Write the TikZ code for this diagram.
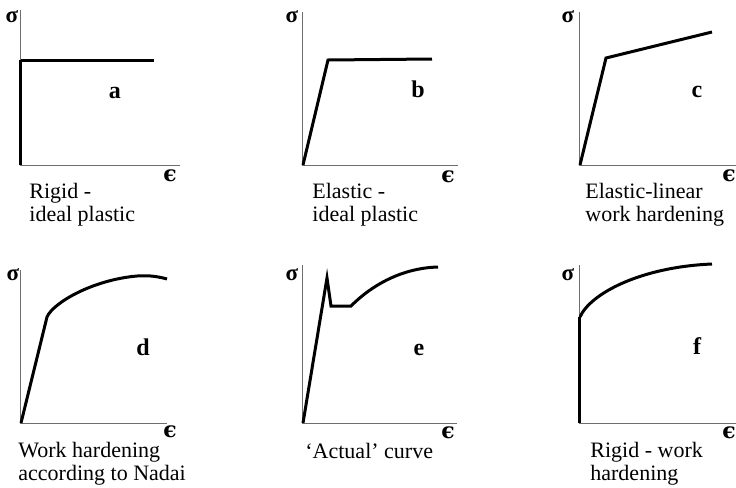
\documentclass[tikz,border=0pt]{standalone}
\usepackage{fontspec}
\setmainfont{Liberation Serif}
\newfontfamily\grkfont{DejaVu Serif}
\usepackage{tikz}
\usetikzlibrary{positioning}
\definecolor{axisgray}{HTML}{6e6e6e}
\tikzset{
  axisline/.style={draw=axisgray, line width=0.5pt},
  lawcurve/.style={line width=1.5pt, line join=miter},
  rigidleg/.style={line width=1.5pt},
  sigmalbl/.style={inner sep=0pt, font=\fontsize{11.5}{12}\selectfont\bfseries},
  epslbl/.style={inner sep=0pt, font=\fontsize{11}{12}\grkfont\bfseries},
  caselbl/.style={anchor=base, inner sep=0pt, font=\fontsize{12}{13}\selectfont\bfseries},
  captionlbl/.style={anchor=north west, inner sep=0pt, align=left,
                     font=\fontsize{11}{11.5}\selectfont}
}
\begin{document}
\begin{tikzpicture}[x=0.5pt, y=-0.5pt]
  \useasboundingbox (0,0) rectangle (736,488);

  % --- a: rigid - ideal plastic ---
  \coordinate (a-o) at (21,165);
  \coordinate (a-top) at (21,10);
  \coordinate (a-end) at (180,165);
  \draw[axisline] (a-top) -- (a-o) -- (a-end);
  \draw[rigidleg] (a-o) -- (21,60);
  \draw[lawcurve] (21,60) -- (154,60);
  \node[sigmalbl] (a-sig) at (12,17) {σ};
  \node[epslbl] (a-eps) at (170,176) {ϵ};
  \node[caselbl] (a-lbl) at (115,98) {a};
  \node[captionlbl] (a-cap) at (29,183) {Rigid -\\ ideal plastic};

  % --- b: elastic - ideal plastic ---
  \coordinate (b-o) at (303,165);
  \coordinate (b-top) at (303,12);
  \coordinate (b-end) at (458,165);
  \draw[axisline] (b-top) -- (b-o) -- (b-end);
  \draw[lawcurve] (b-o) -- (328,60) -- (432,59);
  \node[sigmalbl] (b-sig) at (292,17) {σ};
  \node[epslbl] (b-eps) at (448,177) {ϵ};
  \node[caselbl] (b-lbl) at (418,97) {b};
  \node[captionlbl] (b-cap) at (312,183) {Elastic -\\ ideal plastic};

  % --- c: elastic-linear work hardening ---
  \coordinate (c-o) at (580,165);
  \coordinate (c-top) at (580,12);
  \coordinate (c-end) at (736,165);
  \draw[axisline] (c-top) -- (c-o) -- (c-end);
  \draw[lawcurve] (c-o) -- (606,58) -- (712,32);
  \node[sigmalbl] (c-sig) at (568,17) {σ};
  \node[epslbl] (c-eps) at (729,176) {ϵ};
  \node[caselbl] (c-lbl) at (697,97) {c};
  \node[captionlbl] (c-cap) at (585,183) {Elastic-linear\\ work hardening};

  % --- d: work hardening according to Nadai ---
  \coordinate (d-o) at (21,423);
  \coordinate (d-top) at (21,270);
  \coordinate (d-end) at (167,423);
  \draw[axisline] (d-top) -- (d-o) -- (d-end);
  \draw[lawcurve] (d-o) -- (47,317)
    .. controls (53,303) and (92,280) .. (137,276)
    .. controls (150,275) and (160,277) .. (167,279);
  \node[sigmalbl] (d-sig) at (13,275) {σ};
  \node[epslbl] (d-eps) at (170,432) {ϵ};
  \node[caselbl] (d-lbl) at (143,355) {d};
  \node[captionlbl] (d-cap) at (18,442) {Work hardening\\ according to Nadai};

  % --- e: 'actual' curve ---
  \coordinate (e-o) at (303,423);
  \coordinate (e-top) at (303,265);
  \coordinate (e-end) at (457,423);
  \draw[axisline] (e-top) -- (e-o) -- (e-end);
  \draw[lawcurve] (e-o) -- (327,278) -- (331,306) -- (351,306)
    .. controls (372,285) and (402,268) .. (438,267);
  \node[sigmalbl] (e-sig) at (292,275) {σ};
  \node[epslbl] (e-eps) at (448,433) {ϵ};
  \node[caselbl] (e-lbl) at (419,355) {e};
  \node[captionlbl] (e-cap) at (305,443) {‘Actual’ curve};

  % --- f: rigid - work hardening ---
  \coordinate (f-o) at (580,423);
  \coordinate (f-top) at (580,265);
  \coordinate (f-end) at (736,423);
  \draw[axisline] (f-top) -- (f-o) -- (f-end);
  \draw[rigidleg] (f-o) -- (580,317);
  \draw[lawcurve] (580,317) .. controls (590,294) and (640,267) .. (712,264);
  \node[sigmalbl] (f-sig) at (568,275) {σ};
  \node[epslbl] (f-eps) at (729,433) {ϵ};
  \node[caselbl] (f-lbl) at (697,354) {f};
  \node[captionlbl] (f-cap) at (590,442) {Rigid - work\\ hardening};

\end{tikzpicture}
\end{document}
